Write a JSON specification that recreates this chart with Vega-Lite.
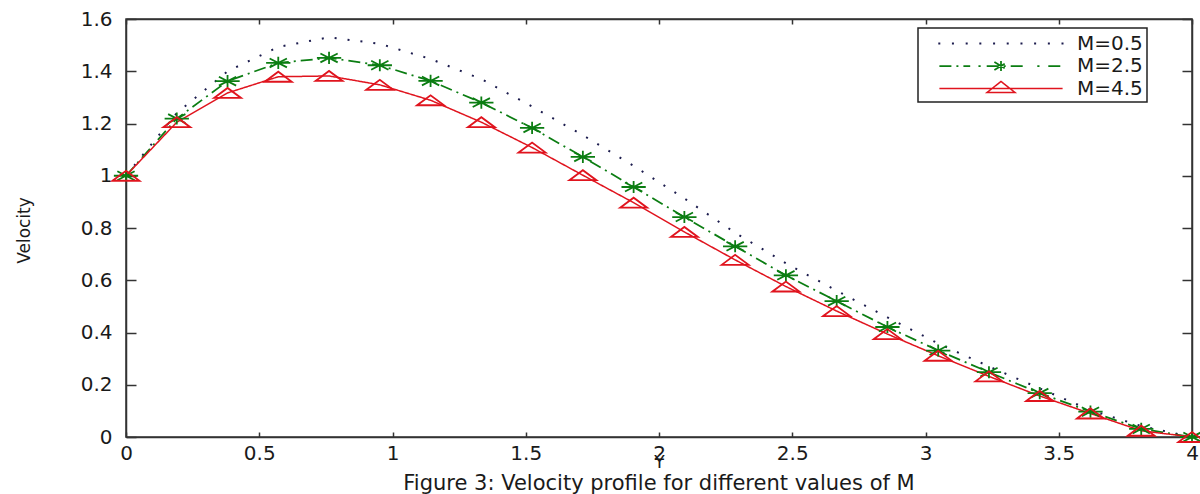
{
  "$schema": "https://vega.github.io/schema/vega-lite/v6.json",
  "width": 1066,
  "height": 418,
  "autosize": "none",
  "padding": {"left": 126, "top": 19, "right": 8, "bottom": 57},
  "background": "white",
  "title": {
    "text": "Figure 3: Velocity profile for different values of M",
    "orient": "bottom",
    "anchor": "middle",
    "font": "DejaVu Sans",
    "fontSize": 21,
    "fontWeight": "normal",
    "color": "#1a1a1a",
    "offset": 0,
    "dy": 2
  },
  "datasets": {
    "profiles": [
      {"Y": 0, "Velocity": 1.0, "M": "M=0.5"},
      {"Y": 0.1905, "Velocity": 1.24, "M": "M=0.5"},
      {"Y": 0.381, "Velocity": 1.4, "M": "M=0.5"},
      {"Y": 0.5714, "Velocity": 1.493, "M": "M=0.5"},
      {"Y": 0.7619, "Velocity": 1.53, "M": "M=0.5"},
      {"Y": 0.9524, "Velocity": 1.505, "M": "M=0.5"},
      {"Y": 1.1429, "Velocity": 1.447, "M": "M=0.5"},
      {"Y": 1.3333, "Velocity": 1.37, "M": "M=0.5"},
      {"Y": 1.5238, "Velocity": 1.265, "M": "M=0.5"},
      {"Y": 1.7143, "Velocity": 1.155, "M": "M=0.5"},
      {"Y": 1.9048, "Velocity": 1.038, "M": "M=0.5"},
      {"Y": 2.0952, "Velocity": 0.913, "M": "M=0.5"},
      {"Y": 2.2857, "Velocity": 0.782, "M": "M=0.5"},
      {"Y": 2.4762, "Velocity": 0.665, "M": "M=0.5"},
      {"Y": 2.6667, "Velocity": 0.56, "M": "M=0.5"},
      {"Y": 2.8571, "Velocity": 0.458, "M": "M=0.5"},
      {"Y": 3.0476, "Velocity": 0.358, "M": "M=0.5"},
      {"Y": 3.2381, "Velocity": 0.27, "M": "M=0.5"},
      {"Y": 3.4286, "Velocity": 0.186, "M": "M=0.5"},
      {"Y": 3.619, "Velocity": 0.103, "M": "M=0.5"},
      {"Y": 3.8095, "Velocity": 0.042, "M": "M=0.5"},
      {"Y": 4, "Velocity": 0, "M": "M=0.5"},
      {"Y": 0, "Velocity": 1.0, "M": "M=2.5"},
      {"Y": 0.1905, "Velocity": 1.219, "M": "M=2.5"},
      {"Y": 0.381, "Velocity": 1.362, "M": "M=2.5"},
      {"Y": 0.5714, "Velocity": 1.432, "M": "M=2.5"},
      {"Y": 0.7619, "Velocity": 1.451, "M": "M=2.5"},
      {"Y": 0.9524, "Velocity": 1.423, "M": "M=2.5"},
      {"Y": 1.1429, "Velocity": 1.363, "M": "M=2.5"},
      {"Y": 1.3333, "Velocity": 1.28, "M": "M=2.5"},
      {"Y": 1.5238, "Velocity": 1.183, "M": "M=2.5"},
      {"Y": 1.7143, "Velocity": 1.072, "M": "M=2.5"},
      {"Y": 1.9048, "Velocity": 0.957, "M": "M=2.5"},
      {"Y": 2.0952, "Velocity": 0.842, "M": "M=2.5"},
      {"Y": 2.2857, "Velocity": 0.73, "M": "M=2.5"},
      {"Y": 2.4762, "Velocity": 0.619, "M": "M=2.5"},
      {"Y": 2.6667, "Velocity": 0.52, "M": "M=2.5"},
      {"Y": 2.8571, "Velocity": 0.421, "M": "M=2.5"},
      {"Y": 3.0476, "Velocity": 0.331, "M": "M=2.5"},
      {"Y": 3.2381, "Velocity": 0.248, "M": "M=2.5"},
      {"Y": 3.4286, "Velocity": 0.168, "M": "M=2.5"},
      {"Y": 3.619, "Velocity": 0.097, "M": "M=2.5"},
      {"Y": 3.8095, "Velocity": 0.031, "M": "M=2.5"},
      {"Y": 4, "Velocity": 0, "M": "M=2.5"},
      {"Y": 0, "Velocity": 1.0, "M": "M=4.5"},
      {"Y": 0.1905, "Velocity": 1.205, "M": "M=4.5"},
      {"Y": 0.381, "Velocity": 1.317, "M": "M=4.5"},
      {"Y": 0.5714, "Velocity": 1.379, "M": "M=4.5"},
      {"Y": 0.7619, "Velocity": 1.382, "M": "M=4.5"},
      {"Y": 0.9524, "Velocity": 1.348, "M": "M=4.5"},
      {"Y": 1.1429, "Velocity": 1.289, "M": "M=4.5"},
      {"Y": 1.3333, "Velocity": 1.205, "M": "M=4.5"},
      {"Y": 1.5238, "Velocity": 1.108, "M": "M=4.5"},
      {"Y": 1.7143, "Velocity": 1.002, "M": "M=4.5"},
      {"Y": 1.9048, "Velocity": 0.897, "M": "M=4.5"},
      {"Y": 2.0952, "Velocity": 0.785, "M": "M=4.5"},
      {"Y": 2.2857, "Velocity": 0.678, "M": "M=4.5"},
      {"Y": 2.4762, "Velocity": 0.576, "M": "M=4.5"},
      {"Y": 2.6667, "Velocity": 0.482, "M": "M=4.5"},
      {"Y": 2.8571, "Velocity": 0.394, "M": "M=4.5"},
      {"Y": 3.0476, "Velocity": 0.311, "M": "M=4.5"},
      {"Y": 3.2381, "Velocity": 0.232, "M": "M=4.5"},
      {"Y": 3.4286, "Velocity": 0.157, "M": "M=4.5"},
      {"Y": 3.619, "Velocity": 0.09, "M": "M=4.5"},
      {"Y": 3.8095, "Velocity": 0.024, "M": "M=4.5"},
      {"Y": 4, "Velocity": 0, "M": "M=4.5"}
    ]
  },
  "data": {"name": "profiles"},
  "resolve": {"axis": {"x": "independent", "y": "independent"}},
  "layer": [
    {
      "mark": {"type": "line", "strokeCap": "butt", "clip": false},
      "encoding": {
        "x": {
          "field": "Y", "type": "quantitative",
          "scale": {"domain": [0, 4], "nice": false, "zero": false},
          "axis": {
            "orient": "bottom", "title": "Y",
            "values": [0, 0.5, 1, 1.5, 2, 2.5, 3, 3.5, 4],
            "format": "~g", "tickSize": -5, "labelPadding": 11.5,
            "titleBaseline": "middle", "titleY": 25.5, "titleFontSize": 17
          }
        },
        "y": {
          "field": "Velocity", "type": "quantitative",
          "scale": {"domain": [0, 1.6], "nice": false, "zero": false},
          "axis": {
            "orient": "left", "title": "Velocity",
            "values": [0, 0.2, 0.4, 0.6, 0.8, 1, 1.2, 1.4, 1.6],
            "format": "~g", "tickSize": -10, "labelPadding": 24,
            "titleX": -102, "titleY": 211, "titleAngle": -90,
            "titleAlign": "center", "titleBaseline": "middle",
            "titleFontSize": 17
          }
        },
        "color": {
          "field": "M", "type": "nominal",
          "scale": {"domain": ["M=0.5", "M=2.5", "M=4.5"], "range": ["#1c1c4e", "#0b7d12", "#e0141e"]},
          "legend": {
            "title": null,
            "orient": "none",
            "legendX": 792,
            "legendY": 9,
            "padding": 3.5,
            "rowPadding": 0.5,
            "symbolSize": 484,
            "symbolOffset": 67.5,
            "labelOffset": 64,
            "labelFont": "DejaVu Sans",
            "labelFontSize": 20,
            "labelColor": "#1a1a1a",
            "strokeColor": "#222222",
            "fillColor": "white",
            "encode": {
              "legend": {"update": {"strokeWidth": {"value": 1.5}}},
              "symbols": {
                "update": {
                  "shape": {"signal": "datum.value === 'M=0.5' ? 'M-5.7,0h0.2M-4.46,0h0.2M-3.21,0h0.2M-1.97,0h0.2M-0.72,0h0.2M0.52,0h0.2M1.77,0h0.2M3.01,0h0.2M4.26,0h0.2M5.5,0h0.2' : datum.value === 'M=2.5' ? 'M-5.6,0H-2.8M-2.05,0H-1.85M-1.3,0H2.3M3.3,0H3.5M4.3,0H5.6M0,-0.45V0.45M-0.6,-0.36L0.6,0.36M-0.6,0.36L0.6,-0.36' : 'M-5.6,0H5.6M-1.27,0.36L0,-0.64L1.27,0.36Z'"},
                  "fill": {"value": "transparent"},
                  "strokeWidth": {"value": 1.6},
                  "strokeDash": {"value": [1, 0]},
                  "opacity": {"value": 1}
                }
              }
            }
          }
        },
        "strokeDash": {
          "field": "M", "type": "nominal",
          "scale": {"domain": ["M=0.5", "M=2.5", "M=4.5"], "range": [[2, 11], [12, 5, 2, 5], [1, 0]]},
          "legend": null
        },
        "strokeWidth": {
          "field": "M", "type": "nominal",
          "scale": {"domain": ["M=0.5", "M=2.5", "M=4.5"], "range": [2, 1.5, 1.5]},
          "legend": null
        }
      }
    },
    {
      "transform": [{"filter": "datum.M !== 'M=0.5'"}],
      "mark": {"type": "point", "filled": false, "size": 729, "strokeWidth": 1.8, "opacity": 1, "clip": false},
      "encoding": {
        "x": {
          "field": "Y", "type": "quantitative",
          "axis": {"orient": "top", "title": null, "labels": false, "values": [0, 0.5, 1, 1.5, 2, 2.5, 3, 3.5, 4], "tickSize": -5}
        },
        "y": {
          "field": "Velocity", "type": "quantitative",
          "axis": {"orient": "right", "title": null, "labels": false, "values": [0, 0.2, 0.4, 0.6, 0.8, 1, 1.2, 1.4, 1.6], "tickSize": -10}
        },
        "shape": {
          "field": "M", "type": "nominal",
          "scale": {
            "domain": ["M=2.5", "M=4.5"],
            "range": [
              "M-0.9,0H0.9M0,-0.45V0.45M-0.64,-0.33L0.64,0.33M-0.64,0.33L0.64,-0.33",
              "M-1,0.37L0,-0.37L1,0.37Z"
            ]
          },
          "legend": null
        },
        "stroke": {
          "field": "M", "type": "nominal",
          "scale": {"domain": ["M=2.5", "M=4.5"], "range": ["#0b7d12", "#e0141e"]},
          "legend": null
        }
      }
    }
  ],
  "config": {
    "view": {"stroke": "#333333", "strokeWidth": 1.5},
    "axis": {
      "grid": false,
      "domainColor": "#333333",
      "domainWidth": 1.5,
      "tickColor": "#333333",
      "tickWidth": 1.5,
      "labelFont": "DejaVu Sans",
      "labelFontSize": 20,
      "labelColor": "#1a1a1a",
      "titleFont": "DejaVu Sans",
      "titleFontWeight": "normal",
      "titleColor": "#1a1a1a",
      "labelFlush": false
    }
  }
}
